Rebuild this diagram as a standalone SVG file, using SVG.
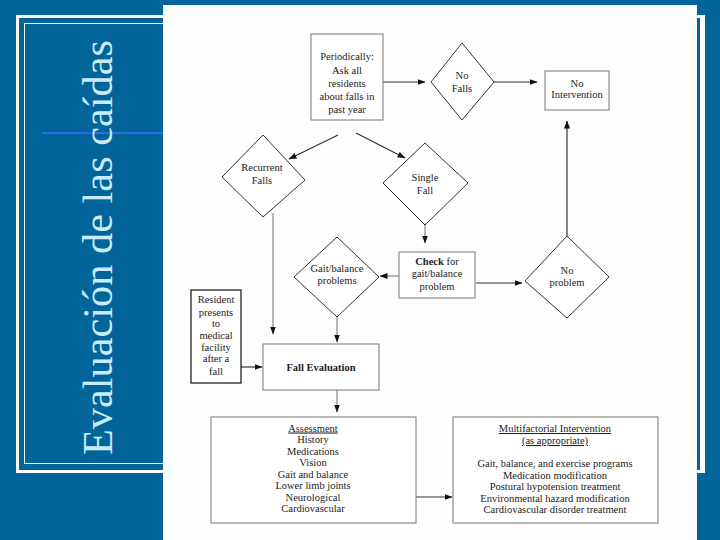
<svg xmlns="http://www.w3.org/2000/svg" width="720" height="540" viewBox="0 0 720 540">
<defs>
<marker id="ah" markerUnits="userSpaceOnUse" markerWidth="8" markerHeight="7" refX="7.5" refY="3.5" orient="auto">
<path d="M0,0.5 L8,3.5 L0,6.5 z" fill="#111"/>
</marker>
<style>
.t{font-family:"Liberation Serif","Times New Roman",serif;font-size:10.5px;fill:#222;text-anchor:middle}
.title{font-family:"Liberation Serif","Times New Roman",serif;font-size:43px;fill:#C8EBF8;text-anchor:middle}
.b{font-weight:bold}
.u{text-decoration:underline}
.box{fill:#fff;stroke:#777;stroke-width:1}
.dia{fill:#fff;stroke:#333;stroke-width:1}
.c{fill:none;stroke:#333;stroke-width:1.2;marker-end:url(#ah)}
.g{stroke:#888}
</style>
</defs>
<rect x="0" y="0" width="720" height="540" fill="#02659A"/>
<!-- frame -->
<rect x="17.5" y="16.5" width="686" height="455" fill="none" stroke="#fff" stroke-width="3"/>
<rect x="24.5" y="23.5" width="672" height="440" fill="none" stroke="#fff" stroke-width="1"/>
<line x1="42" y1="133" x2="166" y2="133" stroke="#2E6BE6" stroke-width="2"/>
<text class="title" transform="translate(112,247.5) rotate(-90)" textLength="415" lengthAdjust="spacingAndGlyphs">Evaluación de las caídas</text>
<!-- panel -->
<rect x="163" y="5" width="534" height="535" fill="#FDFDFD"/>
<rect x="697" y="20" width="3" height="448" fill="#02659A"/>
<rect x="700" y="15" width="5" height="458" fill="#fff"/>

<g id="connectors">
<path class="c" d="M383,82 H425"/>
<path class="c" d="M494,82 H537"/>
<path class="c" d="M338,135 L289,159"/>
<path class="c" d="M356,133 L405,158"/>
<path class="c g" d="M425,225 V243"/>
<path class="c g" d="M399,276 H380"/>
<path class="c" d="M476,283 H522"/>
<path class="c" d="M567,236 V121"/>
<path class="c g" d="M273,213 V334"/>
<path class="c g" d="M337,317 V342"/>
<path class="c" d="M241,367 H262"/>
<path class="c g" d="M337,390 V412"/>
<path class="c" d="M416,497 H452"/>
</g>

<g id="periodically">
<rect class="box" x="311" y="34" width="72" height="86"/>
<text class="t" x="347" y="60">Periodically:</text>
<text class="t" x="347" y="73.5">Ask all</text>
<text class="t" x="347" y="86.5">residents</text>
<text class="t" x="347" y="99.5">about falls in</text>
<text class="t" x="347" y="112.5">past year</text>
</g>
<g id="no-falls">
<polygon class="dia" points="462,43 494,82 462,120 431,82"/>
<text class="t" x="462" y="78.5">No</text>
<text class="t" x="462" y="91.5">Falls</text>
</g>
<g id="no-intervention">
<rect class="box" x="545" y="71" width="64" height="39"/>
<text class="t" x="577" y="86.5">No</text>
<text class="t" x="577" y="97.5">Intervention</text>
</g>
<g id="recurrent-falls">
<polygon class="dia" points="263,135 305,180 263,217 222,177"/>
<text class="t" x="262" y="170.5">Recurrent</text>
<text class="t" x="262" y="183.5">Falls</text>
</g>
<g id="single-fall">
<polygon class="dia" points="425,143 468,183 425,225 383,183"/>
<text class="t" x="425" y="180.5">Single</text>
<text class="t" x="425" y="193.5">Fall</text>
</g>
<g id="gait-balance">
<polygon class="dia" points="337,237 379,277 337,317 294,277"/>
<text class="t" x="337" y="271.5">Gait/balance</text>
<text class="t" x="337" y="283.5">problems</text>
</g>
<g id="check">
<rect class="box" x="399" y="252" width="76" height="46" stroke="#555"/>
<text class="t" x="437" y="264.5"><tspan class="b">Check</tspan> for</text>
<text class="t" x="437" y="276.5">gait/balance</text>
<text class="t" x="437" y="290">problem</text>
</g>
<g id="no-problem">
<polygon class="dia" points="567,236 609,277 567,318 525,281"/>
<text class="t" x="567" y="273.5">No</text>
<text class="t" x="567" y="285.5">problem</text>
</g>
<g id="resident">
<rect x="191" y="290" width="50" height="93" fill="#fff" stroke="#111" stroke-width="1.2"/>
<text class="t" x="216" y="302.5">Resident</text>
<text class="t" x="216" y="315.5">presents</text>
<text class="t" x="216" y="326.5">to</text>
<text class="t" x="216" y="338.5">medical</text>
<text class="t" x="216" y="350.5">facility</text>
<text class="t" x="216" y="361.5">after a</text>
<text class="t" x="216" y="374.5">fall</text>
</g>
<g id="fall-evaluation">
<rect class="box" x="263" y="344" width="116" height="46"/>
<text class="t b" x="321" y="371" font-size="11">Fall Evaluation</text>
</g>
<g id="assessment">
<rect class="box" x="211" y="417" width="205" height="106"/>
<text class="t u" x="313" y="431.5">Assessment</text>
<text class="t" x="313" y="442.5">History</text>
<text class="t" x="313" y="454.5">Medications</text>
<text class="t" x="313" y="465.5">Vision</text>
<text class="t" x="313" y="477.5">Gait and balance</text>
<text class="t" x="313" y="488.5">Lower limb joints</text>
<text class="t" x="313" y="500.5">Neurological</text>
<text class="t" x="313" y="511.5">Cardiovascular</text>
</g>
<g id="multifactorial">
<rect class="box" x="453" y="417" width="205" height="106"/>
<text class="t u" x="555" y="432">Multifactorial Intervention</text>
<text class="t u" x="555" y="444">(as appropriate)</text>
<text class="t" x="555" y="467">Gait, balance, and exercise programs</text>
<text class="t" x="555" y="478.5">Medication modification</text>
<text class="t" x="555" y="490">Postural hypotension treatment</text>
<text class="t" x="555" y="501.5">Environmental hazard modification</text>
<text class="t" x="555" y="513">Cardiovascular disorder treatment</text>
</g>
</svg>
